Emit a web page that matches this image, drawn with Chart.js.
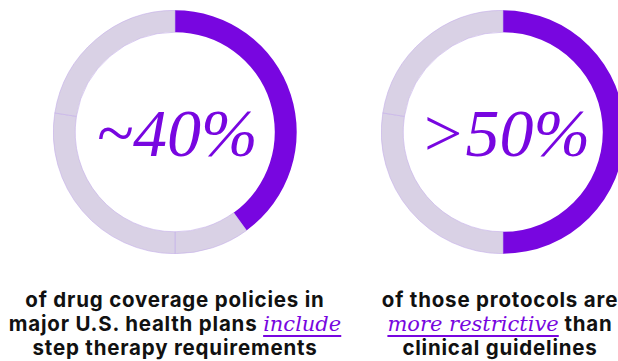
<!DOCTYPE html>
<html>
<head>
<meta charset="utf-8">
<script src="https://cdn.jsdelivr.net/npm/chart.js@4"></script>
<style>
  html, body { margin: 0; padding: 0; background: #fff; overflow: hidden; width: 618px; height: 361px; }
  .ring { position: absolute; width: 244px; height: 244px; }
  .big {
    position: absolute; width: 260px; text-align: center;
    font-family: "Liberation Serif", serif; font-style: italic;
    font-size: 68px; color: #7806e0; line-height: 1;
  }
  .caption {
    position: absolute; width: 360px; text-align: center;
    font-family: Inter, sans-serif; font-weight: 700; font-size: 20.5px;
    line-height: 24px; color: #111; letter-spacing: 0.8px; white-space: nowrap;
  }
  .caption em {
    font-family: "DejaVu Serif", serif; font-style: italic; font-weight: 400;
    color: #7806e0; font-size: 21px; letter-spacing: 0;
    text-decoration: underline; text-underline-offset: 4px;
    text-decoration-thickness: 1.5px;
  }
</style>
</head>
<body>
<div class="ring" style="left:53px; top:10px;"><canvas id="leftChart"></canvas></div>
<div class="ring" style="left:381px; top:10px;"><canvas id="rightChart"></canvas></div>

<div class="big" style="left:47px; top:99px;">~40%</div>
<div class="big" style="left:375px; top:99px;">&gt;50%</div>

<div class="caption" style="left:-5px; top:288px;">of drug coverage policies in<br>major U.S. health plans <em>include</em><br>step therapy requirements</div>
<div class="caption" style="left:320px; top:288px;">of those protocols are<br><em>more restrictive</em> than<br>clinical guidelines</div>

<script>
// values (share of the ring, in %)
const leftLabels = ["include step therapy", "rest", "rest", "rest"];
const leftValues = [40, 10, 27.5, 22.5];
const rightLabels = ["more restrictive", "rest", "rest"];
const rightValues = [50, 27.5, 22.5];

const purple = "#7806e0";
const lilac = "#d9d1e5";
const edge = "#c4aee9";

function drawRing(id, labels, values) {
    const ctx = document.getElementById(id).getContext("2d");
    return new Chart(ctx, {
        type: "doughnut",
        data: {
            labels: labels,
            datasets: [{
                data: values,
                backgroundColor: values.map((v, i) => i === 0 ? purple : lilac),
                borderColor: values.map((v, i) => i === 0 ? purple : edge),
                borderWidth: values.map((v, i) => i === 0 ? 0 : 0.6)
            }]
        },
        options: {
            responsive: true,
            maintainAspectRatio: false,
            animation: false,
            cutout: "82%",
            plugins: {
                legend: { display: false },
                tooltip: { enabled: false }
            }
        }
    });
}

drawRing("leftChart", leftLabels, leftValues);
drawRing("rightChart", rightLabels, rightValues);
</script>
</body>
</html>
